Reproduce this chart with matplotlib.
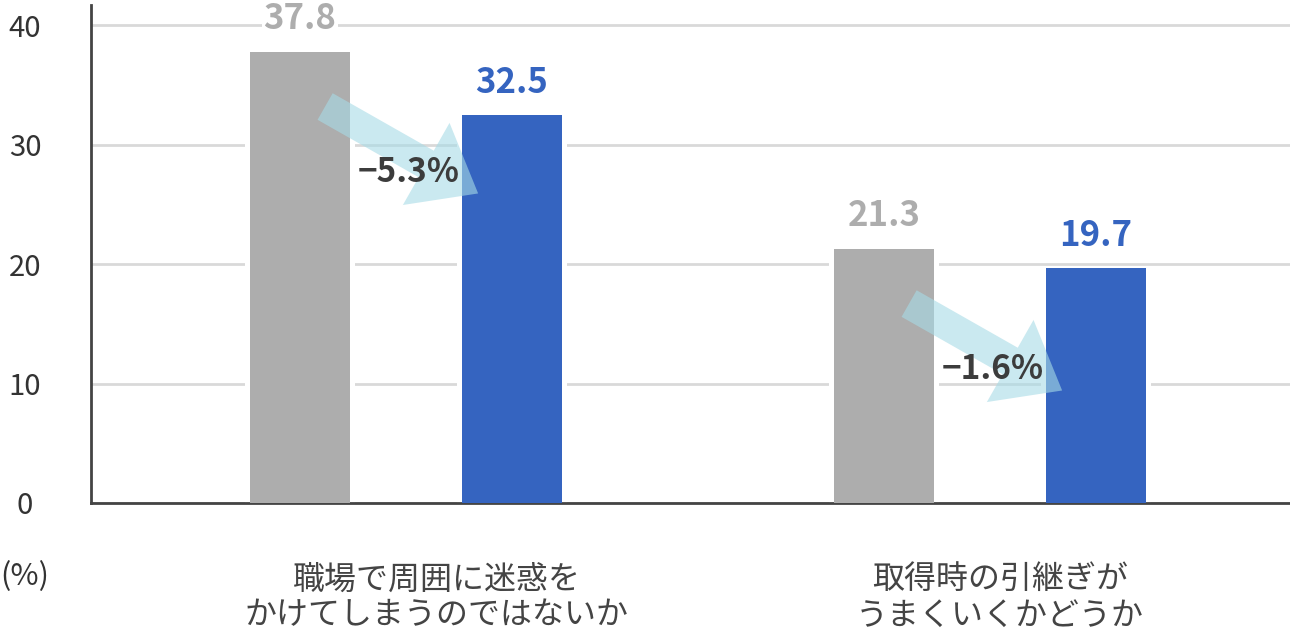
import matplotlib
matplotlib.use('Agg')
import matplotlib.pyplot as plt
from matplotlib.patches import FancyArrowPatch
import numpy as np

plt.rcParams['font.family'] = ['Noto Sans CJK JP', 'DejaVu Sans']

categories = ['職場で周囲に迷惑を\nかけてしまうのではないか', '取得時の引継ぎが\nうまくいくかどうか']
before = [37.8, 21.3]
after = [32.5, 19.7]
yticks = [0, 10, 20, 30, 40]

GRAY = '#adadad'
BLUE = '#3564c0'
TEXT = '#3c3c3c'
ARROW = '#a7dbe6'

fig = plt.figure(figsize=(12.9, 6.38), dpi=100)
ax = fig.add_axes([91 / 1290, 135 / 638, 1199 / 1290, 498 / 638])

x = np.arange(len(categories))
off = 0.1815
w = 100 / 584
gap = 10 / 584
label_shift = [22, 7]  # category labels sit a little right of the group centre

# white halo so the gridlines stop short of the bars
ax.bar(x - off, before, width=w + gap, color='white', zorder=2)
ax.bar(x + off, after, width=w + gap, color='white', zorder=2)
ax.bar(x - off, before, width=w, color=GRAY, zorder=3)
ax.bar(x + off, after, width=w, color=BLUE, zorder=3)

for xi, b, a in zip(x, before, after):
    ax.annotate(f'{b:.1f}', (xi - off, b), xytext=(0, 16), textcoords='offset points',
                ha='center', va='baseline', fontsize=25, fontweight='bold', color=GRAY,
                bbox=dict(boxstyle='square,pad=0.05', fc='white', ec='none'), zorder=5)
    ax.annotate(f'{a:.1f}', (xi + off, a), xytext=(0, 16), textcoords='offset points',
                ha='center', va='baseline', fontsize=25, fontweight='bold', color=BLUE, zorder=5)

    tail = (xi - off + 0.043, b - 4.6)
    tip = (tail[0] + 0.262, tail[1] - 7.28)
    arr = FancyArrowPatch(tail, tip, arrowstyle='simple,head_length=4.3,head_width=6.8,tail_width=2.2',
                          mutation_scale=10, shrinkA=0, shrinkB=0, fc=ARROW, ec='none',
                          alpha=0.6, zorder=4)
    ax.add_patch(arr)
    diff = a - b
    ax.annotate(f'\u2212{abs(diff):.1f}%', tail, xytext=(60, -47.5), textcoords='offset points',
                ha='center', va='center', fontsize=24, fontweight='bold', color=TEXT, zorder=6)

    ax.annotate(categories[xi], (xi, 0), xytext=(label_shift[xi], -68), textcoords='offset points',
                ha='center', va='center', fontsize=23, color='#444444', linespacing=1.17,
                annotation_clip=False)

ax.set_xlim(-0.5394, 1.5137)
ax.set_ylim(0, 41.7)
ax.set_yticks(yticks)
ax.set_yticklabels([str(t) for t in yticks], ha='center')
ax.tick_params(axis='y', length=0, pad=47.5, labelsize=21, labelcolor='#333333')
ax.set_xticks([])
ax.grid(axis='y', color='#d9d9d9', linewidth=2, zorder=0)
ax.set_axisbelow(True)
for s in ['top', 'right']:
    ax.spines[s].set_visible(False)
for s in ['left', 'bottom']:
    ax.spines[s].set_color('#444444')
    ax.spines[s].set_linewidth(2)

fig.text(25 / 1290, 1 - 577 / 638, '(%)', ha='center', va='center', fontsize=22, color='#333333')

fig.savefig('out.png', dpi=100)
